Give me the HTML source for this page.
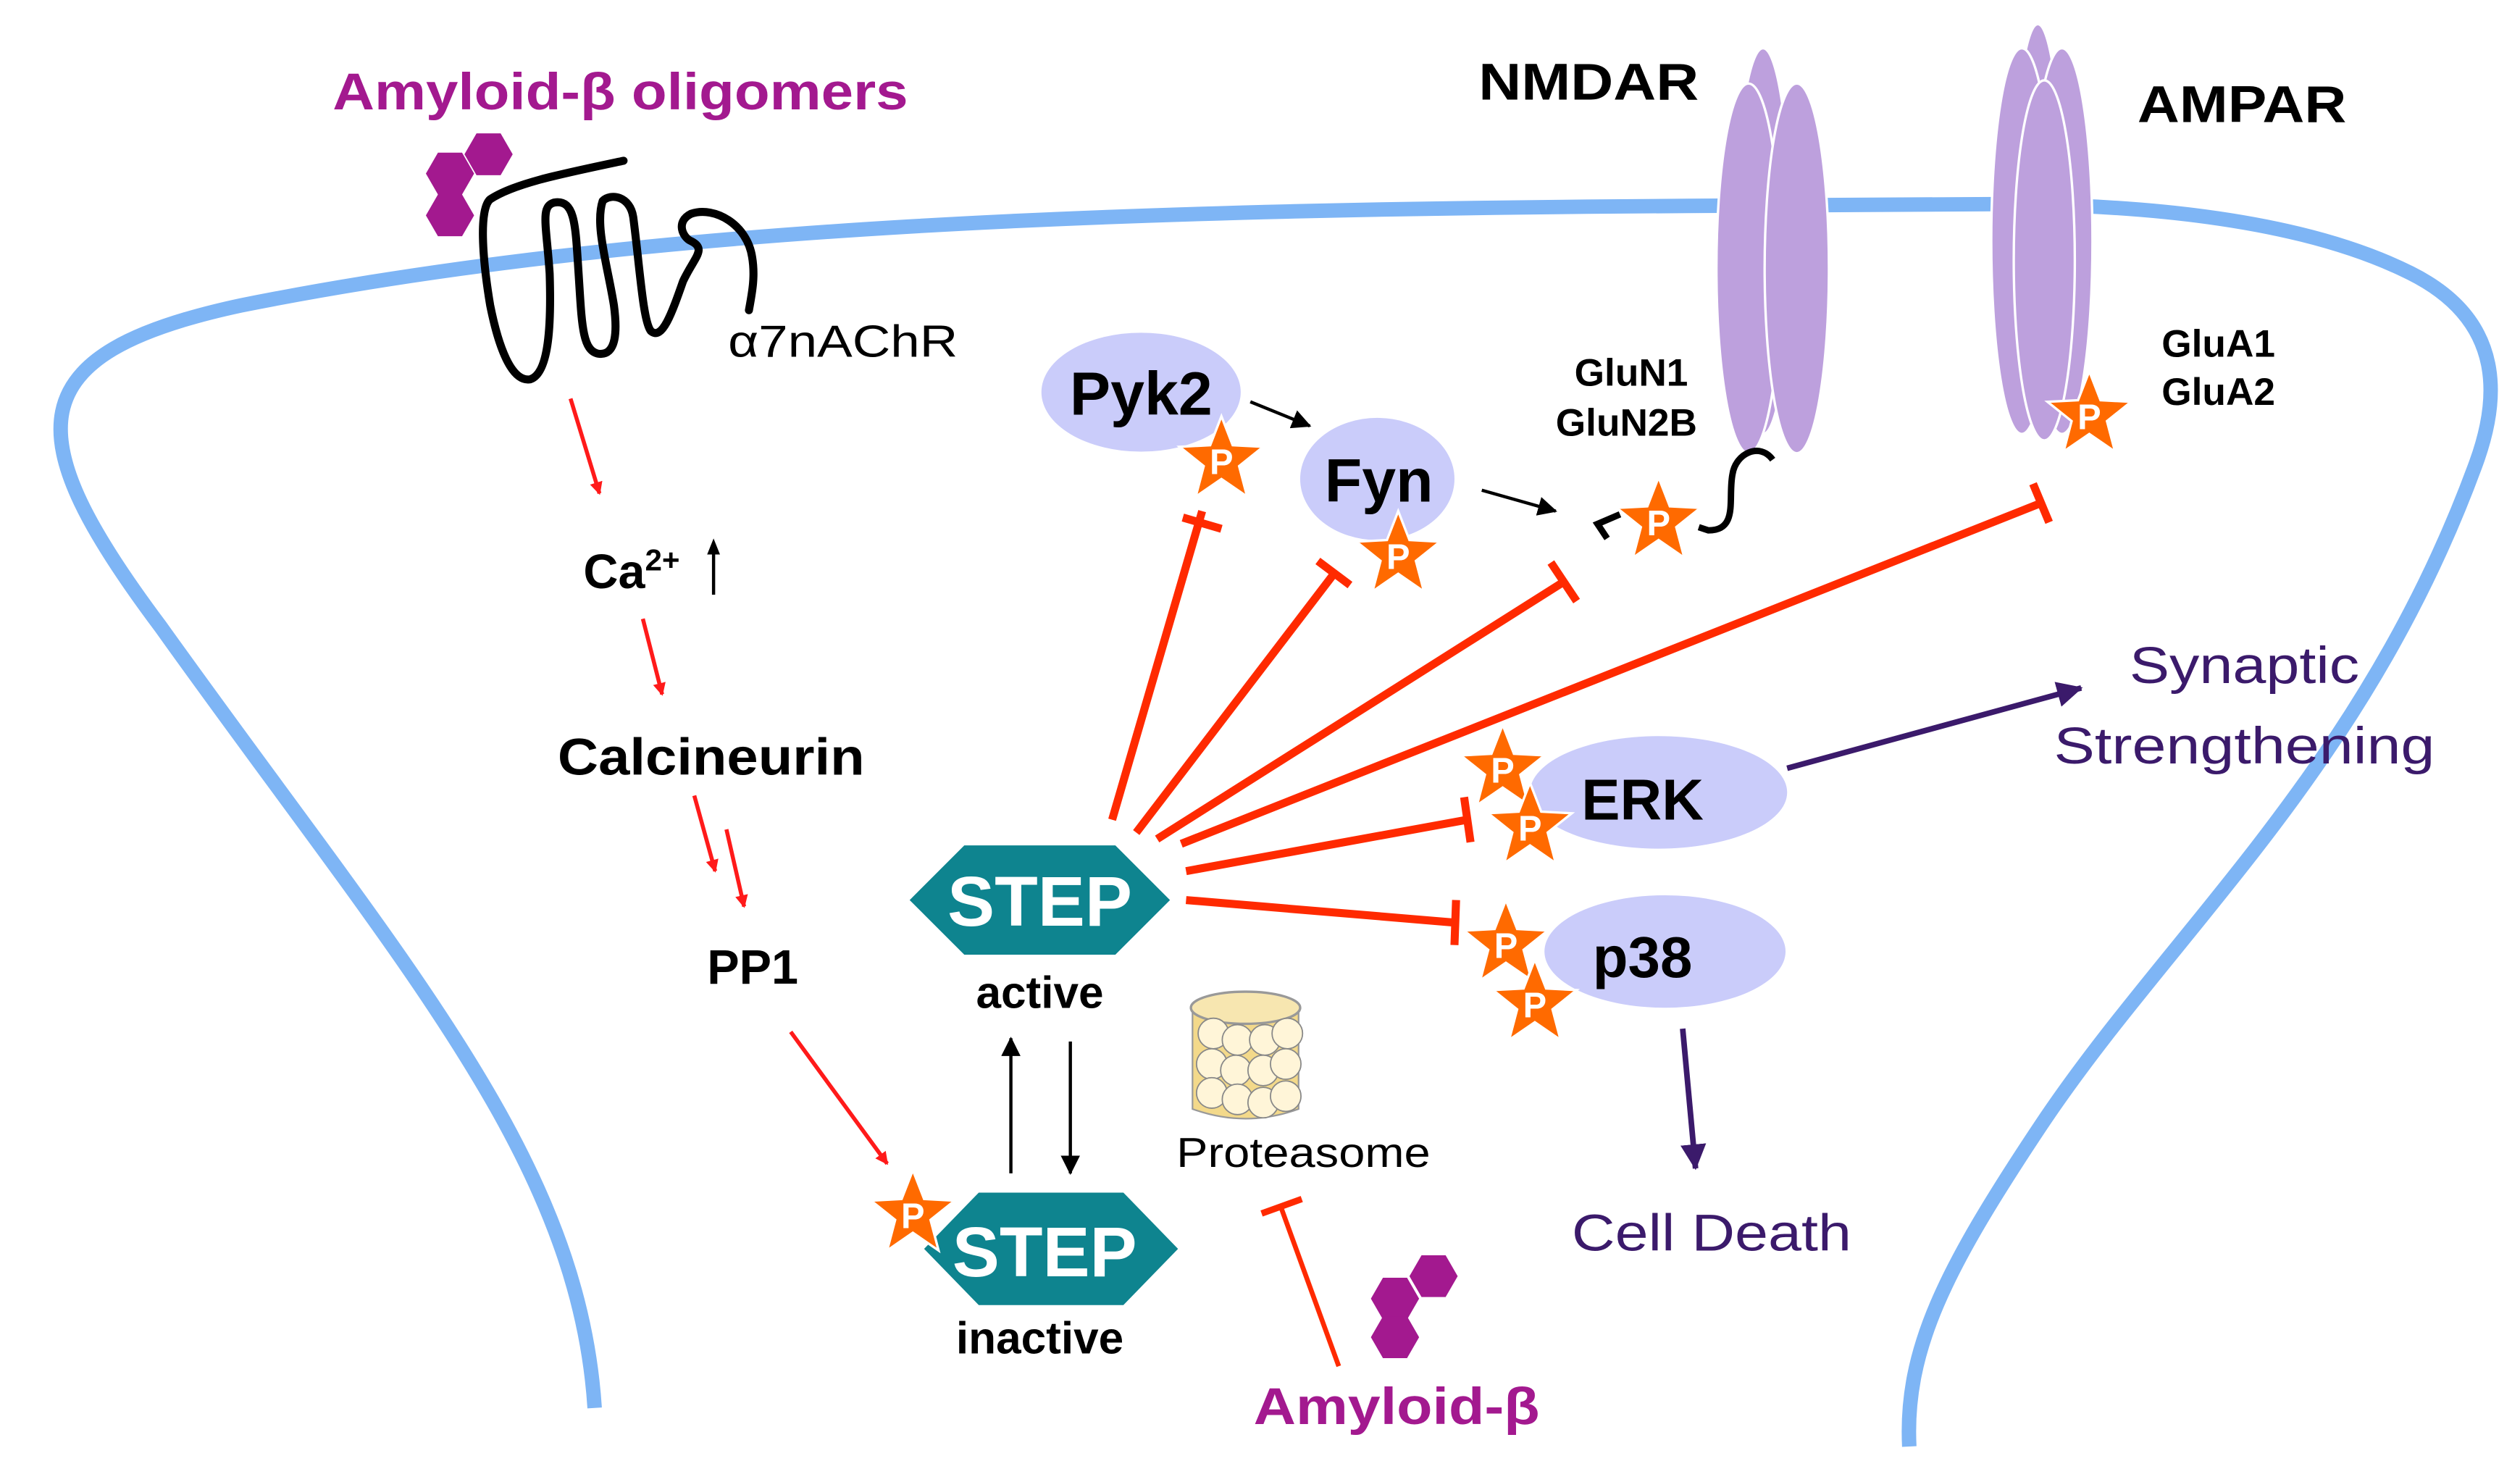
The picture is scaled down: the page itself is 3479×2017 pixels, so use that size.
<!DOCTYPE html>
<html><head><meta charset="utf-8"><style>
html,body{margin:0;padding:0;background:#fff;}
svg{display:block;}
text{font-family:"Liberation Sans","DejaVu Sans",sans-serif;}
</style></head><body>
<svg width="3479" height="2017" viewBox="0 0 1568 909" preserveAspectRatio="none" xmlns="http://www.w3.org/2000/svg">
<defs>
<g id="star"><polygon points="0,-27 7,-9 26,-8 11,4 16,23 0,12 -16,23 -11,4 -26,-8 -7,-9" fill="#FF6A00" stroke="#fff" stroke-width="1.5"/><text x="0" y="9" text-anchor="middle" font-size="22" font-weight="bold" fill="#fff" font-family="Liberation Serif,serif">P</text></g>
<g id="hex"><polygon points="-15,0 -7.5,-13 7.5,-13 15,0 7.5,13 -7.5,13" fill="#A3198F"/></g>
<marker id="ar" markerWidth="8" markerHeight="8" refX="7" refY="4" orient="auto" markerUnits="userSpaceOnUse" viewBox="0 0 8 8"><path d="M0,0 L8,4 L0,8z" fill="#FF1A1A"/></marker>
<marker id="ab" markerWidth="12" markerHeight="12" refX="11" refY="6" orient="auto" markerUnits="userSpaceOnUse" viewBox="0 0 12 12"><path d="M0,0 L12,6 L0,12z" fill="#000"/></marker>
<marker id="ap" markerWidth="16" markerHeight="16" refX="15" refY="8" orient="auto" markerUnits="userSpaceOnUse" viewBox="0 0 16 16"><path d="M0,0 L16,8 L0,16z" fill="#3B1A6B"/></marker>
</defs>

<!-- membrane -->
<path d="M370,876 C360,720 250,600 100,390 C10,270 10,220 150,190 C400,140 700,130 1070,128 L1240,127 C1350,127 1440,140 1500,170 C1560,200 1555,250 1540,290 C1470,480 1350,580 1270,700 C1210,790 1185,840 1188,900" fill="none" stroke="#7EB5F5" stroke-width="9"/>

<!-- receptor serpentine -->
<path d="M388,100 C350,108 320,114 305,124 C298,130 300,160 305,190 C310,215 318,238 330,236 C342,232 343,200 342,170 C340,140 336,128 345,126 C358,124 358,140 360,170 C362,200 362,218 372,220 C384,222 384,205 382,190 C378,165 370,140 375,125 C380,120 392,122 394,135 C398,165 400,200 405,206 C412,212 418,195 425,175 C432,160 440,155 430,150 C425,148 420,138 430,133 C445,128 465,140 468,160 C470,172 468,182 466,193" fill="none" stroke="#000" stroke-width="5" stroke-linejoin="round" stroke-linecap="round"/>
<use href="#hex" x="304" y="96"/><use href="#hex" x="280" y="108"/><use href="#hex" x="280" y="134"/>
<text x="207" y="68" font-size="32" font-weight="bold" fill="#A3198F" textLength="358" lengthAdjust="spacingAndGlyphs">Amyloid-β oligomers</text>
<text x="453" y="222" font-size="28" fill="#000" textLength="143" lengthAdjust="spacingAndGlyphs">α7nAChR</text>

<!-- left chain -->
<line x1="355" y1="248" x2="373" y2="307" stroke="#FF1A1A" stroke-width="2.5" marker-end="url(#ar)"/>
<text x="363" y="366" font-size="30" font-weight="bold">Ca<tspan font-size="19" dy="-11">2+</tspan></text>
<line x1="444" y1="370" x2="444" y2="340" stroke="#000" stroke-width="2"/><path d="M440,345 L444,335 L448,345z"/>
<line x1="400" y1="385" x2="412" y2="432" stroke="#FF1A1A" stroke-width="2.5" marker-end="url(#ar)"/>
<text x="347" y="482" font-size="32" font-weight="bold" textLength="191" lengthAdjust="spacingAndGlyphs">Calcineurin</text>
<line x1="432" y1="495" x2="445" y2="542" stroke="#FF1A1A" stroke-width="2.5" marker-end="url(#ar)"/>
<line x1="452" y1="516" x2="463" y2="564" stroke="#FF1A1A" stroke-width="2.5" marker-end="url(#ar)"/>
<text x="440" y="612" font-size="30" font-weight="bold">PP1</text>
<line x1="492" y1="642" x2="552" y2="724" stroke="#FF1A1A" stroke-width="2.5" marker-end="url(#ar)"/>

<!-- STEP active -->
<polygon points="566,560 600,526 694,526 728,560 694,594 600,594" fill="#0E848F"/>
<text x="647" y="576" text-anchor="middle" font-size="44" font-weight="bold" fill="#fff">STEP</text>
<text x="647" y="627" text-anchor="middle" font-size="28" font-weight="bold">active</text>
<!-- STEP inactive -->
<polygon points="575,777 609,742 699,742 733,777 699,812 609,812" fill="#0E848F"/>
<text x="650" y="794" text-anchor="middle" font-size="44" font-weight="bold" fill="#fff">STEP</text>
<use href="#star" x="568" y="755"/>
<text x="647" y="842" text-anchor="middle" font-size="28" font-weight="bold">inactive</text>
<line x1="629" y1="730" x2="629" y2="646" stroke="#000" stroke-width="2" marker-end="url(#ab)"/>
<line x1="666" y1="648" x2="666" y2="730" stroke="#000" stroke-width="2" marker-end="url(#ab)"/>

<!-- proteasome -->
<path d="M742,628 L742,690 Q775,702 808,690 L808,628" fill="#F3D98A" stroke="#999" stroke-width="1"/>
<ellipse cx="775" cy="627" rx="34" ry="10" fill="#F7E6B0" stroke="#999" stroke-width="1.5"/>
<g fill="#FFF5D8" stroke="#888" stroke-width="0.8">
<circle cx="755" cy="643" r="9.5"/><circle cx="770" cy="647" r="9.5"/><circle cx="787" cy="647" r="9.5"/><circle cx="801" cy="643" r="9.5"/>
<circle cx="754" cy="662" r="9.5"/><circle cx="769" cy="666" r="9.5"/><circle cx="786" cy="666" r="9.5"/><circle cx="800" cy="662" r="9.5"/>
<circle cx="754" cy="680" r="9.5"/><circle cx="770" cy="684" r="9.5"/><circle cx="786" cy="686" r="9.5"/><circle cx="800" cy="682" r="9.5"/>
</g>
<text x="732" y="726" font-size="26" textLength="158" lengthAdjust="spacingAndGlyphs">Proteasome</text>
<line x1="833" y1="850" x2="797" y2="751" stroke="#FF2A00" stroke-width="3"/>
<line x1="785" y1="755" x2="810" y2="746" stroke="#FF2A00" stroke-width="4"/>
<use href="#hex" x="892" y="794"/><use href="#hex" x="868" y="808"/><use href="#hex" x="868" y="832"/>
<text x="780" y="886" font-size="32" font-weight="bold" fill="#A3198F" textLength="178" lengthAdjust="spacingAndGlyphs">Amyloid-β</text>

<!-- Pyk2 / Fyn -->
<ellipse cx="710" cy="244" rx="62" ry="37" fill="#CACCFA"/>
<text x="710" y="258" text-anchor="middle" font-size="38" font-weight="bold">Pyk2</text>
<use href="#star" x="760" y="286"/>
<line x1="778" y1="250" x2="815" y2="265" stroke="#000" stroke-width="2" marker-end="url(#ab)"/>
<ellipse cx="857" cy="298" rx="48" ry="38" fill="#CACCFA"/>
<text x="858" y="312" text-anchor="middle" font-size="38" font-weight="bold">Fyn</text>
<use href="#star" x="870" y="345"/>
<line x1="922" y1="305" x2="968" y2="318" stroke="#000" stroke-width="2" marker-end="url(#ab)"/>

<!-- NMDAR -->
<g fill="#BDA0DD" stroke="#fff" stroke-width="1.5">
<ellipse cx="1097" cy="150" rx="17" ry="120"/>
<ellipse cx="1088" cy="167" rx="20" ry="115"/>
<ellipse cx="1118" cy="167" rx="20" ry="115"/>
</g>
<text x="920" y="62" font-size="32" font-weight="bold" textLength="137" lengthAdjust="spacingAndGlyphs">NMDAR</text>
<text x="1015" y="240" text-anchor="middle" font-size="24" font-weight="bold">GluN1</text>
<text x="1012" y="271" text-anchor="middle" font-size="24" font-weight="bold">GluN2B</text>
<path d="M1103,286 C1095,275 1080,282 1078,295 C1075,310 1082,330 1063,330 L1057,328" fill="none" stroke="#000" stroke-width="4"/>
<path d="M1008,320 L994,326 L1000,335" fill="none" stroke="#000" stroke-width="4"/>
<use href="#star" x="1032" y="324"/>

<!-- AMPAR -->
<g fill="#BDA0DD" stroke="#fff" stroke-width="1.5">
<ellipse cx="1268" cy="135" rx="15" ry="120"/>
<ellipse cx="1258" cy="150" rx="19" ry="120"/>
<ellipse cx="1283" cy="150" rx="19" ry="120"/>
<ellipse cx="1272" cy="162" rx="19" ry="112"/>
</g>
<use href="#star" x="1300" y="258"/>
<text x="1330" y="76" font-size="32" font-weight="bold" textLength="130" lengthAdjust="spacingAndGlyphs">AMPAR</text>
<text x="1345" y="222" font-size="24" font-weight="bold">GluA1</text>
<text x="1345" y="252" font-size="24" font-weight="bold">GluA2</text>

<!-- inhibition lines -->
<g stroke="#FF2A00" stroke-width="5" fill="none">
<line x1="692" y1="510" x2="748" y2="318"/><line x1="736" y1="322" x2="760" y2="329"/>
<line x1="707" y1="518" x2="830" y2="357"/><line x1="820" y1="349" x2="840" y2="364"/>
<line x1="720" y1="522" x2="973" y2="362"/><line x1="965" y1="350" x2="981" y2="374"/>
<line x1="735" y1="525" x2="1270" y2="313"/><line x1="1265" y1="301" x2="1275" y2="325"/>
<line x1="738" y1="542" x2="913" y2="510"/><line x1="911" y1="496" x2="915" y2="524"/>
<line x1="738" y1="560" x2="905" y2="574"/><line x1="906" y1="560" x2="905" y2="588"/>
</g>

<!-- ERK / p38 -->
<ellipse cx="1032" cy="493" rx="80" ry="35" fill="#CACCFA"/>
<text x="1022" y="510" text-anchor="middle" font-size="36" font-weight="bold">ERK</text>
<use href="#star" x="935" y="478"/><use href="#star" x="952" y="514"/>
<ellipse cx="1036" cy="592" rx="75" ry="35" fill="#CACCFA"/>
<text x="1022" y="608" text-anchor="middle" font-size="36" font-weight="bold">p38</text>
<use href="#star" x="937" y="587"/><use href="#star" x="955" y="624"/>

<line x1="1112" y1="478" x2="1295" y2="428" stroke="#3B1A6B" stroke-width="3.5" marker-end="url(#ap)"/>
<text x="1325" y="425" font-size="32" fill="#3B1A6B" textLength="143" lengthAdjust="spacingAndGlyphs">Synaptic</text>
<text x="1278" y="475" font-size="32" fill="#3B1A6B" textLength="237" lengthAdjust="spacingAndGlyphs">Strengthening</text>
<line x1="1047" y1="640" x2="1055" y2="727" stroke="#3B1A6B" stroke-width="3.5" marker-end="url(#ap)"/>
<text x="978" y="778" font-size="32" fill="#3B1A6B" textLength="174" lengthAdjust="spacingAndGlyphs">Cell Death</text>
</svg>
</body></html>
